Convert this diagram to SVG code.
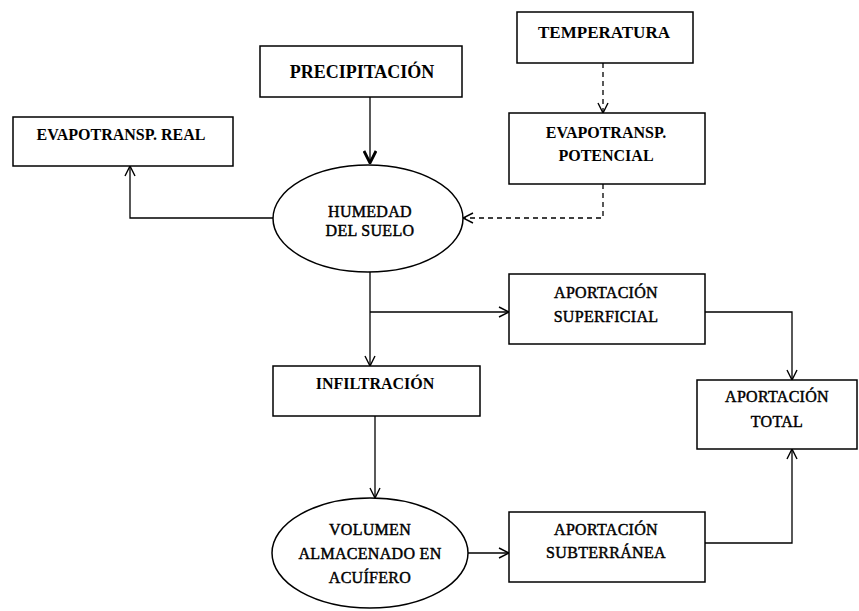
<svg xmlns="http://www.w3.org/2000/svg" width="859" height="611" viewBox="0 0 859 611">
<defs>
<marker id="arr" viewBox="0 0 12 12" refX="11" refY="6" markerWidth="12" markerHeight="12" markerUnits="userSpaceOnUse" orient="auto">
<path d="M1,1 L11,6 L1,11" fill="none" stroke="#000" stroke-width="1.4"/>
</marker>
<marker id="arrB" viewBox="0 0 14 14" refX="13" refY="7" markerWidth="14" markerHeight="14" markerUnits="userSpaceOnUse" orient="auto">
<path d="M1,1 L13,7 L1,13" fill="none" stroke="#000" stroke-width="2.8"/>
</marker>
</defs>
<style>
.box{fill:#fff;stroke:#000;stroke-width:1.5}
.t{font-family:"Liberation Serif","Times New Roman",serif;font-size:16px;font-weight:bold;text-anchor:middle;fill:#000}
.tb{font-family:"Liberation Serif","Times New Roman",serif;font-size:18px;font-weight:bold;text-anchor:middle;fill:#000}
.tn{font-family:"Liberation Serif","Times New Roman",serif;font-size:16px;text-anchor:middle;fill:#000;letter-spacing:0.3px;stroke:#000;stroke-width:0.45}
.c{fill:none;stroke:#000;stroke-width:1.3}
.d{fill:none;stroke:#000;stroke-width:1.3;stroke-dasharray:5,4}
</style>
<rect width="859" height="611" fill="#fff"/>
<g id="connectors">
<path class="c" d="M370,97 L370,163" stroke-width="2.6" marker-end="url(#arrB)"/>
<path class="d" d="M603,63 L603,113" marker-end="url(#arr)"/>
<path class="d" d="M603,184 L603,218 L463,218" marker-end="url(#arr)"/>
<path class="c" d="M273,218 L130,218 L130,166" marker-end="url(#arr)"/>
<path class="c" d="M370,272 L370,366" marker-end="url(#arr)"/>
<path class="c" d="M370,312 L509,312" marker-end="url(#arr)"/>
<path class="c" d="M375,416 L375,498" marker-end="url(#arr)"/>
<path class="c" d="M468,553 L509,553" marker-end="url(#arr)"/>
<path class="c" d="M705,312 L792,312 L792,380" marker-end="url(#arr)"/>
<path class="c" d="M705,543 L792,543 L792,449" marker-end="url(#arr)"/>
</g>
<g id="precipitacion">
<rect class="box" x="260" y="46" width="202" height="51"/>
<text class="tb" x="362" y="78">PRECIPITACIÓN</text>
</g>
<g id="temperatura">
<rect class="box" x="517" y="12" width="176" height="51"/>
<text class="tb" x="604" y="38" style="font-size:17px">TEMPERATURA</text>
</g>
<g id="evapotransp-real">
<rect class="box" x="13" y="117" width="220" height="49"/>
<text class="t" x="121" y="140">EVAPOTRANSP. REAL</text>
</g>
<g id="evapotransp-potencial">
<rect class="box" x="509" y="113" width="196" height="71"/>
<text class="t" x="606" y="138">EVAPOTRANSP.</text>
<text class="t" x="606" y="161">POTENCIAL</text>
</g>
<g id="humedad">
<ellipse class="box" cx="368" cy="218.5" rx="95" ry="53.5"/>
<text class="tn" x="370" y="217">HUMEDAD</text>
<text class="tn" x="370" y="236">DEL SUELO</text>
</g>
<g id="aportacion-superficial">
<rect class="box" x="509" y="274" width="196" height="70"/>
<text class="tn" x="606" y="298">APORTACIÓN</text>
<text class="tn" x="606" y="322">SUPERFICIAL</text>
</g>
<g id="infiltracion">
<rect class="box" x="273" y="366" width="207" height="50"/>
<text class="t" x="375" y="389">INFILTRACIÓN</text>
</g>
<g id="aportacion-total">
<rect class="box" x="697" y="380" width="160" height="69"/>
<text class="tn" x="777" y="402">APORTACIÓN</text>
<text class="tn" x="777" y="427">TOTAL</text>
</g>
<g id="volumen">
<ellipse class="box" cx="370" cy="553" rx="98" ry="55"/>
<text class="tn" x="370" y="535">VOLUMEN</text>
<text class="tn" x="370" y="559">ALMACENADO EN</text>
<text class="tn" x="370" y="583">ACUÍFERO</text>
</g>
<g id="aportacion-subterranea">
<rect class="box" x="509" y="512" width="196" height="70"/>
<text class="tn" x="606" y="535">APORTACIÓN</text>
<text class="tn" x="606" y="558">SUBTERRÁNEA</text>
</g>
</svg>
